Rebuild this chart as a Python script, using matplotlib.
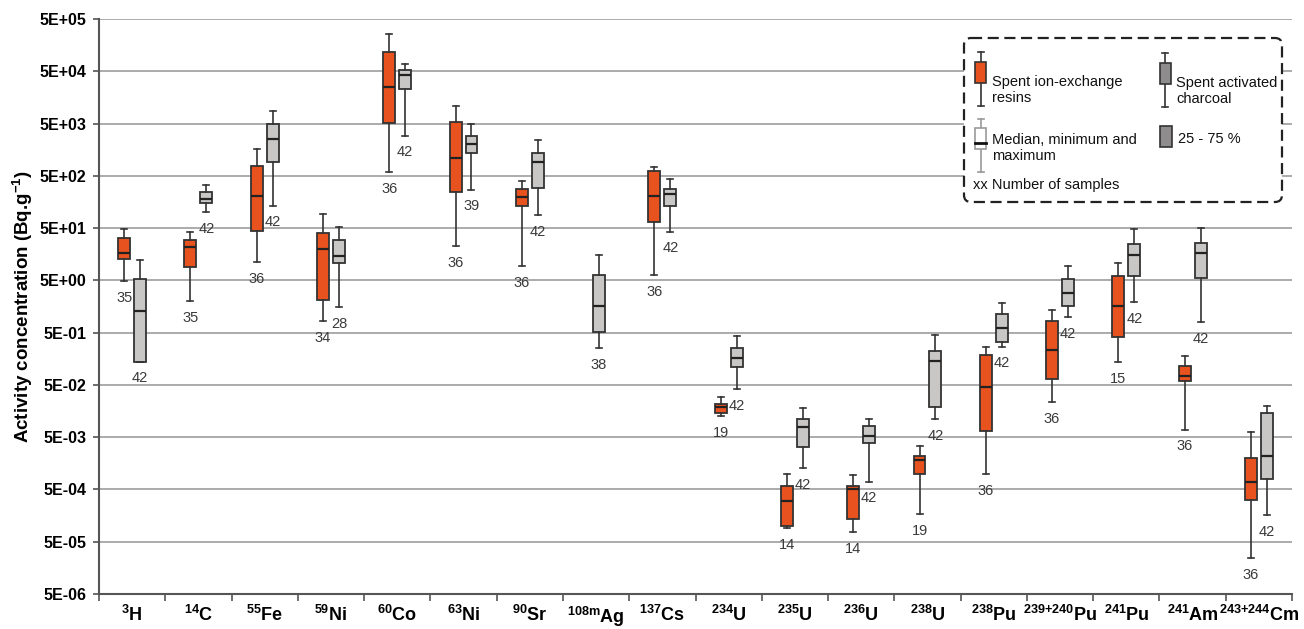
import numpy as np
import matplotlib
matplotlib.use("Agg")
import matplotlib.pyplot as plt
from matplotlib.patches import FancyBboxPatch, Rectangle

plt.rcParams['font.family'] = ['Liberation Sans', 'DejaVu Sans']
plt.rcParams['mathtext.fontset'] = 'custom'
plt.rcParams['mathtext.rm'] = 'Liberation Sans'
plt.rcParams['mathtext.bf'] = 'Liberation Sans:bold'
plt.rcParams['mathtext.default'] = 'bf'

# nuclides (x categories)
nuclides = [r'$^{3}$H', r'$^{14}$C', r'$^{55}$Fe', r'$^{59}$Ni', r'$^{60}$Co',
            r'$^{63}$Ni', r'$^{90}$Sr', r'$^{108m}$Ag', r'$^{137}$Cs', r'$^{234}$U',
            r'$^{235}$U', r'$^{236}$U', r'$^{238}$U', r'$^{238}$Pu', r'$^{239{+}240}$Pu',
            r'$^{241}$Pu', r'$^{241}$Am', r'$^{243{+}244}$Cm']

# spent ion-exchange resins (Bq/g), nan = not measured
res_min = [4.8, 2.0, 11.2, 0.83, 590, 22.6, 9.3, np.nan, 6.2, 0.0128,
           9.1e-5, 7.6e-5, 1.7e-4, 9.7e-4, 0.0234, 0.135, 7.0e-3, 2.45e-5]
res_q1 = [12.8, 9, 44, 2.1, 5100, 240, 135, np.nan, 66, 0.0144,
          1.0e-4, 1.34e-4, 1.0e-3, 6.6e-3, 0.064, 0.42, 0.06, 3.1e-4]
res_med = [17, 22, 204, 20, 24700, 1120, 195, np.nan, 208, 0.0187,
           3.0e-4, 5.0e-4, 1.87e-3, 0.046, 0.23, 1.65, 0.074, 6.9e-4]
res_q3 = [32, 30, 766, 40.6, 115000, 5400, 278, np.nan, 620, 0.0213,
          5.8e-4, 5.9e-4, 2.2e-3, 0.19, 0.83, 6.1, 0.114, 2.0e-3]
res_max = [47, 42, 1640, 91, 258000, 11000, 390, np.nan, 740, 0.030,
           1.0e-3, 9.4e-4, 3.4e-3, 0.27, 1.35, 10.9, 0.177, 6.2e-3]
res_n = [35, 35, 36, 34, 36, 36, 36, None, 36, 19, 14, 14, 19, 36, 36, 15, 36, 36]

# spent activated charcoal (Bq/g)
chr_min = [0.14, 102, 135, 1.54, 2950, 270, 89, 0.25, 42.5, 0.041,
           1.26e-3, 7.0e-4, 0.0112, 0.27, 1.0, 1.94, 0.8, 1.6e-4]
chr_q1 = [0.14, 154, 937, 10.7, 23400, 1340, 288, 0.51, 131, 0.109,
          3.2e-3, 3.8e-3, 0.0186, 0.33, 1.6, 6.1, 5.5, 7.9e-4]
chr_med = [1.3, 181, 2500, 14.4, 42000, 1990, 910, 1.6, 228, 0.166,
           7.9e-3, 5.3e-3, 0.144, 0.6, 2.9, 15, 17, 2.2e-3]
chr_q3 = [5.2, 250, 4800, 29, 52000, 2900, 1370, 6.3, 274, 0.25,
          0.0109, 8.3e-3, 0.22, 1.12, 5.4, 24.6, 25.6, 0.0144]
chr_max = [12.5, 337, 8750, 52, 69000, 5000, 2470, 15.5, 438, 0.425,
           0.0177, 0.011, 0.46, 1.86, 9.5, 48, 50, 0.02]
chr_n = [42, 42, 42, 28, 42, 39, 42, 38, 42, 42, 42, 42, 42, 42, 42, 42, 42, 42]

ytick_vals = [5 * 10.0 ** k for k in range(-6, 6)]

orange = '#E8521E'
grey = '#C9C7C5'
edge = '#333333'

fig = plt.figure(figsize=(13.04, 6.29), dpi=100)
ax = fig.add_axes([99 / 1304, 1 - 594 / 629, 1193 / 1304, 575 / 629])

x = np.arange(len(nuclides))


def draw(mins, q1s, meds, q3s, maxs, ns, offset, color):
    stats, pos, labels = [], [], []
    for i in range(len(nuclides)):
        if np.isnan(meds[i]):
            continue
        stats.append(dict(whislo=mins[i], q1=q1s[i], med=meds[i], q3=q3s[i],
                          whishi=maxs[i], fliers=[]))
        # single series (108mAg) sits almost centred
        p = x[i] + (0.04 if np.isnan(res_med[i]) else offset)
        pos.append(p)
        labels.append((p, mins[i], ns[i]))
    ax.bxp(stats, positions=pos, widths=0.18, patch_artist=True, showfliers=False,
           boxprops=dict(facecolor=color, edgecolor=edge, linewidth=1.3),
           medianprops=dict(color='#222222', linewidth=1.6),
           whiskerprops=dict(color=edge, linewidth=1.2),
           capprops=dict(color=edge, linewidth=1.2), zorder=3)
    for p, lo, n in labels:
        ax.annotate(str(n), (p, lo), xytext=(0, -12), textcoords='offset points',
                    ha='center', va='center', fontsize=10.5, color='#3a3a3a')


draw(res_min, res_q1, res_med, res_q3, res_max, res_n, -0.12, orange)
draw(chr_min, chr_q1, chr_med, chr_q3, chr_max, chr_n, 0.12, grey)

ax.set_yscale('log')
ax.set_ylim(5e-6, 5e5)
ax.set_xlim(-0.5, len(nuclides) - 0.5)
ax.set_yticks(ytick_vals)
ax.set_yticklabels(['%.0E' % v for v in ytick_vals])
ax.yaxis.set_minor_locator(matplotlib.ticker.NullLocator())
ax.tick_params(axis='y', labelsize=11.5, length=4, width=1.2, color='#555555', pad=5)
for t in ax.get_yticklabels():
    t.set_fontweight('bold')

ax.set_xticks(np.arange(len(nuclides) + 1) - 0.5)
ax.set_xticklabels([])
ax.set_xticks(x, minor=True)
ax.set_xticklabels(nuclides, minor=True, fontsize=13, fontweight='bold')
ax.tick_params(axis='x', which='major', length=5, width=1.2, color='#555555')
ax.tick_params(axis='x', which='minor', length=0, pad=8)

ax.grid(axis='y', color='#A5A5A5', linewidth=1.3, zorder=0)
ax.set_axisbelow(True)
for s in ['top', 'right']:
    ax.spines[s].set_visible(False)
for s in ['left', 'bottom']:
    ax.spines[s].set_color('#555555')
    ax.spines[s].set_linewidth(1.5)

ax.set_ylabel(r'Activity concentration (Bq.g$^{-1}$)', fontsize=13.5, fontweight='bold')
ax.yaxis.set_label_coords(-0.054, 0.5)

# legend drawn by hand in pixel coordinates
lg = fig.add_axes([962 / 1304, 1 - 204 / 629, 323 / 1304, 168 / 629])
lg.set_xlim(962, 1285)
lg.set_ylim(204, 36)
lg.axis('off')
lg.add_patch(FancyBboxPatch((964, 38), 318, 164, boxstyle='round,pad=0,rounding_size=7',
                            facecolor='white', edgecolor='#222222', linewidth=1.6,
                            linestyle=(0, (5, 2.5))))


def sym(cx, top, bot, b_top, b_bot, fc, ec='#333333', wc='#333333', med=None):
    lg.plot([cx, cx], [top, bot], color=wc, lw=1.2)
    lg.plot([cx - 3, cx + 3], [top, top], color=wc, lw=1.2)
    lg.plot([cx - 3, cx + 3], [bot, bot], color=wc, lw=1.2)
    lg.add_patch(Rectangle((cx - 5.5, b_top), 11, b_bot - b_top, facecolor=fc,
                           edgecolor=ec, lw=1.2, zorder=3))
    if med is not None:
        lg.plot([cx - 5.5, cx + 5.5], [med, med], color='#111111', lw=2, zorder=4)


sym(981, 52, 106, 62, 83, orange)
sym(1165, 53, 107, 63, 84, '#8E8C8C')
sym(981, 119, 172, 128, 149, 'white', ec='#999999', wc='#999999', med=143)
lg.add_patch(Rectangle((1160, 126), 12, 21, facecolor='#8E8C8C', edgecolor='#333333', lw=1.2))

lf = dict(fontsize=10.5, color='#111111', va='center', ha='left', linespacing=1.1)
lg.text(992, 90, 'Spent ion-exchange\nresins', **lf)
lg.text(1176, 91, 'Spent activated\ncharcoal', **lf)
lg.text(992, 148, 'Median, minimum and\nmaximum', **lf)
lg.text(1178, 139, '25 - 75 %', **lf)
lg.text(973, 185, 'xx Number of samples', **lf)

fig.savefig('out.png', dpi=100)
